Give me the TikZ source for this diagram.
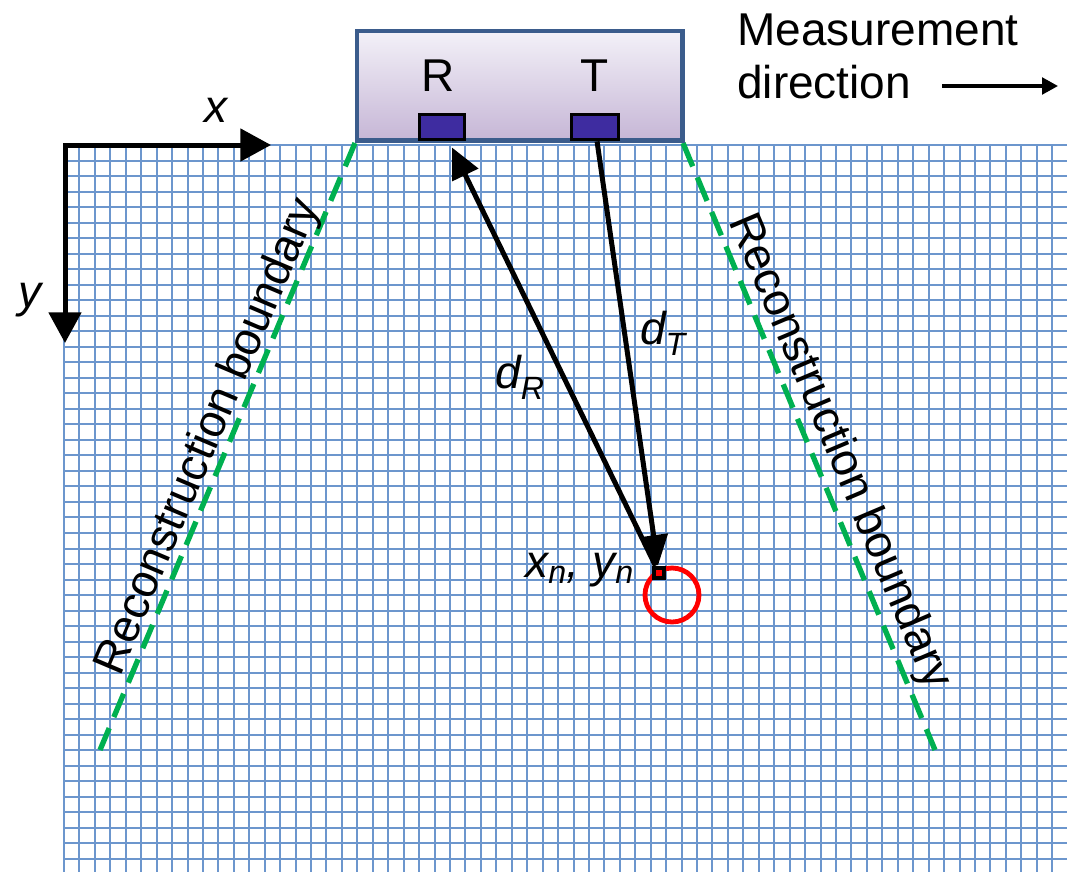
\documentclass[tikz,border=0pt]{standalone}
\usepackage{fontspec}
\setmainfont{Liberation Sans}
\usepackage{xcolor}
\usepackage{tikz}
\usetikzlibrary{arrows.meta,positioning}

\definecolor{gridblue}{RGB}{108,150,205}
\definecolor{probeedge}{RGB}{59,92,140}
\definecolor{probetop}{RGB}{243,241,248}
\definecolor{probebot}{RGB}{198,182,214}
\definecolor{sensorfill}{RGB}{62,44,160}
\definecolor{boundgreen}{RGB}{0,176,80}

\begin{document}
\begin{tikzpicture}[
  x=0.75pt, y=-0.75pt,
  font=\fontsize{34.5}{40}\selectfont,
  gridline/.style={draw=gridblue, line width=1.5pt},
  bound/.style={draw=boundgreen, line width=4pt, dash pattern=on 19pt off 9pt},
  probe/.style={draw=probeedge, line width=3.5pt, top color=probetop, bottom color=probebot,
                minimum width=244pt, minimum height=82pt, inner sep=0pt},
  sensor/.style={draw=black, fill=sensorfill, line width=2.6pt,
                 minimum width=34pt, minimum height=19pt, inner sep=0pt},
  ring/.style={circle, draw=red, line width=3.6pt, minimum size=40.5pt, inner sep=0pt},
  spot/.style={draw=black, fill=red, line width=3pt, minimum size=8pt, inner sep=0pt},
  axis/.style={line width=3.75pt, {Triangle[length=23pt, width=24pt]}-{Triangle[length=23pt, width=24pt]}},
  ray/.style={line width=3.75pt, -{Triangle[length=23pt, width=21pt]}},
  lbl/.style={inner sep=0pt}
]
\useasboundingbox (0,0) rectangle (1067,872);
\fill[white] (0,0) rectangle (1067,872);
% grid
\foreach \i in {0,...,64}
  \draw[gridline] ({64+15.44*\i},145) -- ({64+15.44*\i},872);
\foreach \j in {0,...,46}
  \draw[gridline] (64,{145+15.52*\j}) -- (1067,{145+15.52*\j});
% boundaries
\coordinate (lbtop) at (355,143);
\coordinate (lbbot) at (100,750);
\coordinate (rbtop) at (683,143);
\coordinate (rbbot) at (935,750);
\draw[bound] (lbtop) -- (lbbot);
\draw[bound] (rbtop) -- (rbbot);
\node[lbl, rotate=67] (lbtext) at (209,437) {Reconstruction boundary};
\node[lbl, rotate=-67] (rbtext) at (839,452) {Reconstruction boundary};
% probe
\node[probe] (probe) at (519.5,85.5) {};
\node[sensor] (rx) at (442,127) {};
\node[sensor, minimum width=35.5pt] (tx) at (595,127) {};
\node[lbl] (rlab) at (438,76) {R};
\node[lbl] (tlab) at (595,76) {T};
% axes
\coordinate (origin) at (65,145);
\coordinate (xend) at (271,145);
\coordinate (yend) at (65,343);
\draw[axis] (xend) -- (origin) -- (yend);
\node[lbl] (xlab) at (216,110) {\itshape x};
\node[lbl] (ylab) at (30,300) {\itshape y};
% target
\node[ring] (echo) at (672,595) {};
\node[spot] (tgt) at (659,573) {};
\node[lbl, left=13pt of tgt, yshift=2pt] (tgtlab) {\itshape x\textsubscript{n}, y\textsubscript{n}};
\draw[ray, shorten >=5pt] (tgt) -- (rx);
\draw[ray] (tx) -- (tgt);
\node[lbl] (dRlab) at (520,377) {\itshape d\textsubscript{R}};
\node[lbl] (dTlab) at (663,333) {\itshape d\textsubscript{T}};
% measurement direction
\node[lbl, anchor=base west] (meas) at (737,45) {Measurement};
\node[lbl, anchor=base west] (mdir) at (737,98) {direction};
\coordinate (mdtail) at (942,86);
\coordinate (mdhead) at (1058,86);
\draw[line width=2.5pt, -{Triangle[length=12pt, width=12.5pt]}] (mdtail) -- (mdhead);
\end{tikzpicture}
\end{document}
